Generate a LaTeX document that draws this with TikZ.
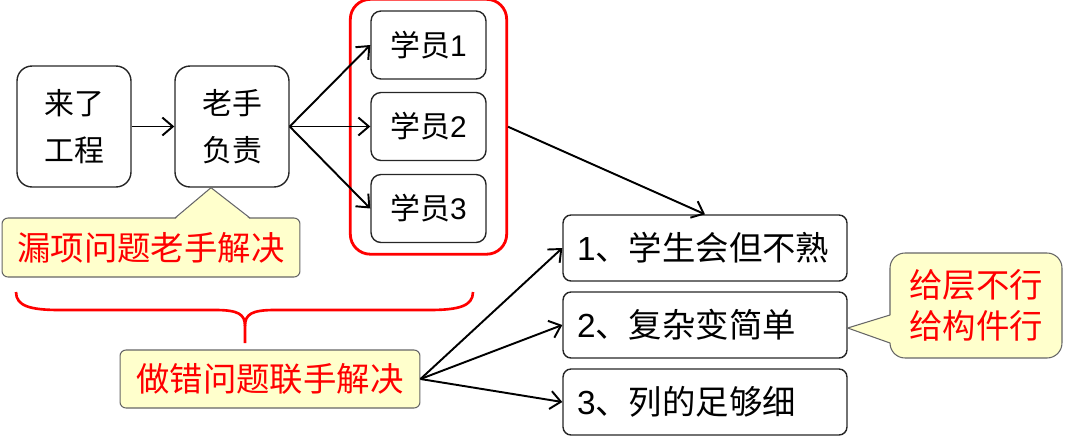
\documentclass[tikz,border=0pt]{standalone}
\usepackage{fontspec}
\setmainfont{Liberation Sans}
\newfontfamily\cjk{Noto Sans CJK SC}
\usetikzlibrary{arrows.meta,fit}
\definecolor{noteyellow}{RGB}{255,255,204}

\begin{document}
\begin{tikzpicture}[x=0.02cm, y=-0.02cm,
	stepbox/.style={draw=black!85, line width=0.8pt, rounded corners=0.3cm, minimum width=2.28cm, minimum height=2.42cm, align=center, font=\cjk\fontsize{17}{27}\selectfont},
	memberbox/.style={draw=black!85, line width=0.8pt, rounded corners=0.2cm, minimum width=2.3cm, minimum height=1.36cm, font=\fontsize{17}{20}\selectfont},
	pointbox/.style={draw=black!85, line width=0.8pt, rounded corners=0.16cm, text width=5.12cm, inner xsep=0.28cm, minimum height=1.32cm, align=left, font=\fontsize{19}{22}\selectfont},
	notebox/.style={draw=black!60, line width=0.6pt, fill=noteyellow, rounded corners=0.12cm, text=red, align=center, font=\cjk\fontsize{19}{23}\selectfont},
	noteedge/.style={draw=black!60, line width=0.6pt},
	link/.style={line width=1.1pt, -{Straight Barb[length=2.1mm,width=3.6mm]}}]
		%%%%% START %%%%%
		\useasboundingbox (0,0) rectangle (1080,437);
		
		\node[stepbox] (lai) at (74,126.5) {来了\\工程};
		\node[stepbox] (lao) at (232,126.5) {老手\\负责};
		
		\node[memberbox] (xy1) at (428.5,45) {{\cjk 学员}1};
		\node[memberbox] (xy2) at (428.5,126.5) {{\cjk 学员}2};
		\node[memberbox] (xy3) at (428.5,208.5) {{\cjk 学员}3};
		\node[draw=red, line width=1.6pt, rounded corners=0.4cm, inner xsep=0.4cm, inner ysep=0.22cm, fit=(xy1)(xy3)] (crew) {};
		
		\node[pointbox] (s1) at (705,248) {1{\cjk 、学生会但不熟}};
		\node[pointbox] (s2) at (705,325) {2{\cjk 、复杂变简单}};
		\node[pointbox] (s3) at (705,402) {3{\cjk 、列的足够细}};
		
		\draw[link] (lai.east) -- (lao.west);
		\draw[link] (lao.east) -- (xy1.west);
		\draw[link] (lao.east) -- (xy2.west);
		\draw[link] (lao.east) -- (xy3.west);
		\draw[link] (crew.east) -- (s1.north);
		
		% callout under the old hand
		\node[notebox, minimum width=5.96cm, minimum height=1.18cm] (lou) at (151,247.5) {漏项问题老手解决};
		\coordinate (loutip) at ([xshift=-0.42cm]lao.south);
		\fill[noteyellow] (175,219.4) -- (loutip) -- (250,219.4) -- cycle;
		\draw[noteedge] (175,218) -- (loutip) -- (250,218);
		
		% red brace
		\draw[red, line width=1.5pt] (16,292) .. controls (16,306) and (30,310) .. (60,310) -- (215,310) .. controls (238,310) and (245,314) .. (245,326) -- (245,343);
		\draw[red, line width=1.5pt] (473,292) .. controls (473,306) and (459,310) .. (429,310) -- (275,310) .. controls (252,310) and (245,314) .. (245,326);
		
		\node[notebox, minimum width=6cm, minimum height=1.16cm] (zuo) at (270,379) {做错问题联手解决};
		\draw[link] (zuo.east) -- (s1.west);
		\draw[link] (zuo.east) -- (s2.west);
		\draw[link] (zuo.east) -- (s3.west);
		
		% callout on the right
		\node[notebox, rounded corners=0.3cm, minimum width=3.44cm, minimum height=2.1cm] (gei) at (976,305.5) {给层不行\\给构件行};
		\coordinate (geitip) at ([yshift=-0.06cm]s2.east);
		\fill[noteyellow] (891.4,315) -- (geitip) -- (891.4,343) -- cycle;
		\draw[noteedge] (890,315) -- (geitip) -- (890,343);
		
		%%%%% END %%%%%
\end{tikzpicture}
\end{document}
